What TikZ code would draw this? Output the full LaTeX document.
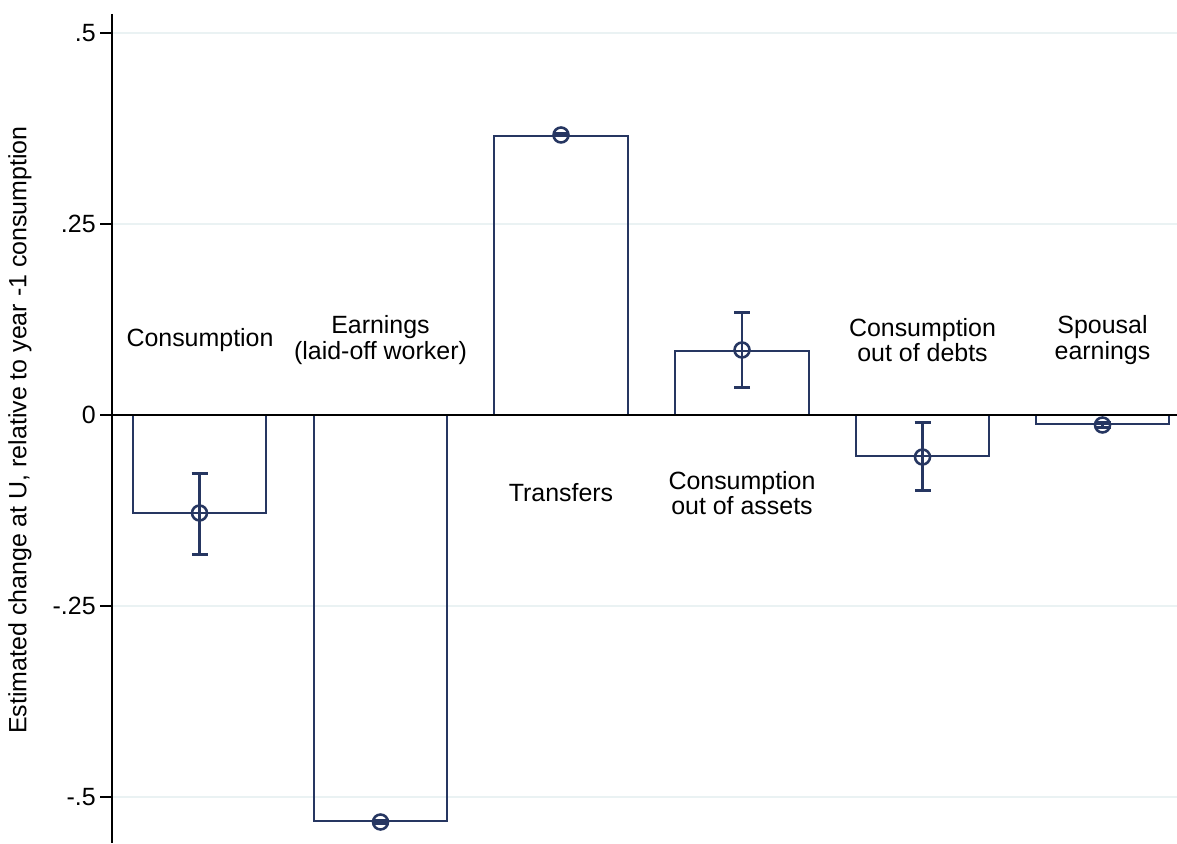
\documentclass[tikz,border=0pt]{standalone}
\usepackage{fontspec}
\setmainfont{Liberation Sans}
\usepackage{tikz}
\usetikzlibrary{arrows.meta}
\definecolor{barnavy}{RGB}{38,54,97}
\definecolor{gridblue}{RGB}{234,242,243}

\begin{document}
\begin{tikzpicture}[x=0.02cm,y=-0.02cm,
    every node/.style={font=\fontsize{14.2}{14.6}\selectfont,inner sep=0pt},
    grid/.style={gridblue,line width=1.1pt},
    bar/.style={barnavy,line width=0.75pt},
    ci/.style={barnavy,line width=1.45pt,{Bar[width=0.32cm]}-{Bar[width=0.32cm]}},
    mk/.style={circle,draw=barnavy,line width=1.45pt,minimum size=0.3cm}]
        \useasboundingbox (0,0) rectangle (1177,844);
        % grid and axis
        \draw [grid] (113,33) -- (1177,33);
        \draw [grid] (113,224) -- (1177,224);
        \draw [grid] (113,606) -- (1177,606);
        \draw [grid] (113,797) -- (1177,797);
        \coordinate (ytop) at (112,14);
        \coordinate (ybot) at (112,843);
        \coordinate (zl) at (112,415);
        \coordinate (zr) at (1177,415);
        \node [anchor=east] (t1) at (96,33) {.5};
        \node [anchor=east] (t2) at (96,224) {.25};
        \node [anchor=east] (t3) at (96,415) {0};
        \node [anchor=east] (t4) at (96,606) {-.25};
        \node [anchor=east] (t5) at (96,797) {-.5};
        \draw [line width=1.1pt] (t1.east) ++(4,0) -- (112,33);
        \draw [line width=1.1pt] (t2.east) ++(4,0) -- (112,224);
        \draw [line width=1.1pt] (t3.east) ++(4,0) -- (112,415);
        \draw [line width=1.1pt] (t4.east) ++(4,0) -- (112,606);
        \draw [line width=1.1pt] (t5.east) ++(4,0) -- (112,797);
        \node [rotate=90] (ylab) at (20,430) {Estimated change at U, relative to year -1 consumption};
        % bars
        \draw [bar] (133,415) rectangle (266,513);
        \draw [bar] (314,415) rectangle (447,821);
        \draw [bar] (494,136) rectangle (628,415);
        \draw [bar] (675,351) rectangle (809,415);
        \draw [bar] (856,415) rectangle (989,456);
        \draw [bar] (1036,415) rectangle (1169,424);
        \draw [-,line width=1.1pt] (zl) to (zr);
        \draw [-,line width=1.1pt] (ytop) to (ybot);
        % intervals
        \coordinate (h1) at (199.5,472);
        \coordinate (l1) at (199.5,556);
        \coordinate (h2) at (380.5,819);
        \coordinate (l2) at (380.5,825);
        \coordinate (h3) at (561,132);
        \coordinate (l3) at (561,137);
        \coordinate (h4) at (742,311);
        \coordinate (l4) at (742,389);
        \coordinate (h5) at (922.5,421);
        \coordinate (l5) at (922.5,492);
        \coordinate (h6) at (1102.5,421);
        \coordinate (l6) at (1102.5,429);
        \draw [ci] (h1) to (l1);
        \draw [ci] (h2) to (l2);
        \draw [ci] (h3) to (l3);
        \draw [ci] (h4) to (l4);
        \draw [ci] (h5) to (l5);
        \draw [ci] (h6) to (l6);
        \node [mk] (m1) at (199.5,513) {};
        \node [mk] (m2) at (380.5,822) {};
        \node [mk] (m3) at (561,135) {};
        \node [mk] (m4) at (742,350) {};
        \node [mk] (m5) at (922.5,457) {};
        \node [mk] (m6) at (1102.5,425) {};
        % labels
        \node [align=center] (cons) at (200,340) {Consumption};
        \node [align=center] (earn) at (380.5,340) {Earnings\\(laid-off worker)};
        \node [align=center] (trans) at (561,493) {Transfers};
        \node [align=center] (assets) at (742,493) {Consumption\\out of assets};
        \node [align=center] (debts) at (922.5,340) {Consumption\\out of debts};
        \node [align=center] (spouse) at (1102.5,340) {Spousal\\earnings};
      \end{tikzpicture}
\end{document}
